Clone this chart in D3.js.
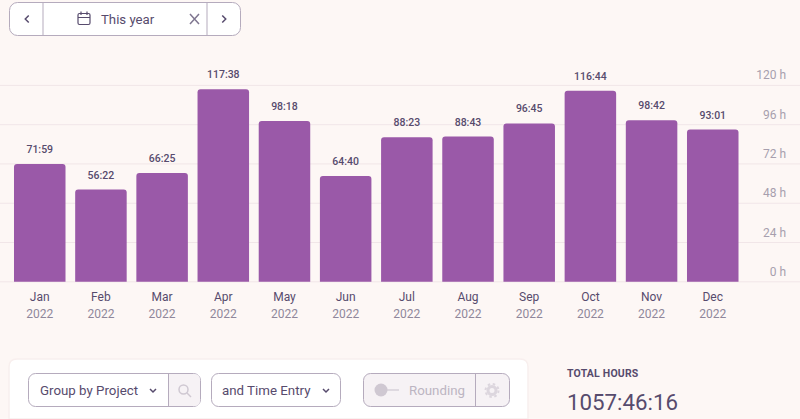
<!DOCTYPE html>
<html>
<head>
<meta charset="utf-8">
<script src="https://cdn.jsdelivr.net/npm/d3@7"></script>
<style>
  html, body { margin: 0; padding: 0; background: #fdf7f5; overflow: hidden; }
  svg { display: block; font-family: Roboto, sans-serif; }
</style>
</head>
<body>
<svg id="chart" width="800" height="419"></svg>
<script>
// chart values
const months = ["Jan", "Feb", "Mar", "Apr", "May", "Jun", "Jul", "Aug", "Sep", "Oct", "Nov", "Dec"];
const years = ["2022", "2022", "2022", "2022", "2022", "2022", "2022", "2022", "2022", "2022", "2022", "2022"];
const durations = ["71:59", "56:22", "66:25", "117:38", "98:18", "64:40", "88:23", "88:43", "96:45", "116:44", "98:42", "93:01"];
const hourTicks = [0, 24, 48, 72, 96, 120];

const ink = "#574b6d";
const border = "#b5abbd";
const purple = "#9a59a8";

const svg = d3.select("#chart");

// "hh:mm" to hours
const toHours = (s) => {
  const p = s.split(":");
  return +p[0] + +p[1] / 60;
};

const x = d3.scaleBand().domain(months).range([9.1, 743.4]).paddingInner(0.158).paddingOuter(0.08);
const y = d3.scaleLinear().domain([0, 120]).range([281.8, 85.4]);

// grid lines and hour labels on the right
svg.selectAll("line.grid")
  .data(hourTicks)
  .enter()
  .append("line")
  .attr("class", "grid")
  .attr("x1", 0)
  .attr("x2", 800)
  .attr("y1", (d) => y(d))
  .attr("y2", (d) => y(d))
  .attr("stroke", "#f1e6e8")
  .attr("stroke-width", 1);

svg.selectAll("text.hour")
  .data(hourTicks)
  .enter()
  .append("text")
  .attr("class", "hour")
  .attr("x", 786)
  .attr("y", (d) => y(d) - 6)
  .attr("text-anchor", "end")
  .attr("font-size", 12)
  .attr("fill", "#a79fae")
  .text((d) => d + " h");

// bars, rounded on the top corners only
const barPath = (d) => {
  const x0 = x(d.month);
  const w = x.bandwidth();
  const top = y(d.hours);
  const r = 3;
  return `M${x0},${y(0)}V${top + r}Q${x0},${top} ${x0 + r},${top}H${x0 + w - r}Q${x0 + w},${top} ${x0 + w},${top + r}V${y(0)}Z`;
};

const rows = months.map((m, i) => ({ month: m, year: years[i], label: durations[i], hours: toHours(durations[i]) }));

svg.selectAll("path.bar")
  .data(rows)
  .enter()
  .append("path")
  .attr("class", "bar")
  .attr("d", barPath)
  .attr("fill", purple);

svg.selectAll("text.value")
  .data(rows)
  .enter()
  .append("text")
  .attr("class", "value")
  .attr("x", (d) => x(d.month) + x.bandwidth() / 2)
  .attr("y", (d) => y(d.hours) - 11)
  .attr("text-anchor", "middle")
  .attr("font-size", 10.5)
  .attr("font-weight", 500)
  .attr("fill", ink)
  .text((d) => d.label);

svg.selectAll("text.month")
  .data(rows)
  .enter()
  .append("text")
  .attr("class", "month")
  .attr("x", (d) => x(d.month) + x.bandwidth() / 2)
  .attr("y", 301)
  .attr("text-anchor", "middle")
  .attr("font-size", 12)
  .attr("fill", ink)
  .text((d) => d.month);

svg.selectAll("text.year")
  .data(rows)
  .enter()
  .append("text")
  .attr("class", "year")
  .attr("x", (d) => x(d.month) + x.bandwidth() / 2)
  .attr("y", 318)
  .attr("text-anchor", "middle")
  .attr("font-size", 12)
  .attr("fill", "#8f879b")
  .text((d) => d.year);

// date picker at the top
svg.append("rect").attr("x", 9.5).attr("y", 2.5).attr("width", 231).attr("height", 33).attr("rx", 8)
  .attr("fill", "#fff").attr("stroke", border);
[43, 207].forEach((px) => {
  svg.append("line").attr("x1", px).attr("x2", px).attr("y1", 3).attr("y2", 35).attr("stroke", border);
});
const chevron = (g, cx, cy, dir, size) => {
  // dir: "left", "right", "down"
  const s = size;
  let d = `M${cx + s / 2},${cy - s}L${cx - s / 2},${cy}L${cx + s / 2},${cy + s}`;
  if (dir === "right") d = `M${cx - s / 2},${cy - s}L${cx + s / 2},${cy}L${cx - s / 2},${cy + s}`;
  if (dir === "down") d = `M${cx - s},${cy - s / 2}L${cx},${cy + s / 2}L${cx + s},${cy - s / 2}`;
  g.append("path").attr("d", d).attr("fill", "none").attr("stroke", ink).attr("stroke-width", 1.5);
};
chevron(svg, 27, 19, "left", 3.5);
chevron(svg, 224, 19, "right", 3.5);

// calendar icon
svg.append("rect").attr("x", 78).attr("y", 13.5).attr("width", 12).attr("height", 11).attr("rx", 1.5)
  .attr("fill", "none").attr("stroke", ink).attr("stroke-width", 1.2);
svg.append("path").attr("d", "M78,17.5H90M81,11.5V15M87,11.5V15")
  .attr("fill", "none").attr("stroke", ink).attr("stroke-width", 1.2);
svg.append("text").attr("x", 101).attr("y", 24).attr("font-size", 13.2).attr("fill", ink).text("This year");
svg.append("path").attr("d", "M190,14L199,24M199,14L190,24")
  .attr("stroke", "#7f7690").attr("stroke-width", 1.5).attr("fill", "none");

// report controls card at the bottom
svg.append("path").attr("d", "M9,419V367Q9,359 17,359H520Q528,359 528,367V419Z")
  .attr("fill", "#fff").attr("stroke", "#f8efee").attr("stroke-width", 1.5);

svg.append("rect").attr("x", 28.5).attr("y", 373.5).attr("width", 172).attr("height", 33).attr("rx", 7)
  .attr("fill", "#fff").attr("stroke", border);
svg.append("path").attr("d", "M168.5,374H194Q200,374 200,380V400Q200,406 194,406H168.5Z").attr("fill", "#f6f2f5");
svg.append("line").attr("x1", 168.5).attr("x2", 168.5).attr("y1", 374).attr("y2", 406).attr("stroke", border);
svg.append("text").attr("x", 40).attr("y", 395).attr("font-size", 13.3).attr("fill", ink).text("Group by Project");
chevron(svg, 153, 390.5, "down", 3);
svg.append("circle").attr("cx", 183.5).attr("cy", 389.5).attr("r", 4.5).attr("fill", "none").attr("stroke", "#cfc8d2").attr("stroke-width", 1.5);
svg.append("line").attr("x1", 187).attr("y1", 393).attr("x2", 191).attr("y2", 397).attr("stroke", "#cfc8d2").attr("stroke-width", 1.5);

svg.append("rect").attr("x", 211.5).attr("y", 373.5).attr("width", 129).attr("height", 33).attr("rx", 7)
  .attr("fill", "#fff").attr("stroke", border);
svg.append("text").attr("x", 222).attr("y", 395).attr("font-size", 13.3).attr("fill", ink).text("and Time Entry");
chevron(svg, 326, 390.5, "down", 3);

svg.append("rect").attr("x", 363.5).attr("y", 373.5).attr("width", 146).attr("height", 33).attr("rx", 7)
  .attr("fill", "#f6f2f5").attr("stroke", border);
svg.append("line").attr("x1", 475.5).attr("x2", 475.5).attr("y1", 374).attr("y2", 406).attr("stroke", border);
svg.append("circle").attr("cx", 381).attr("cy", 390).attr("r", 6.5).attr("fill", "#cfc8d2");
svg.append("line").attr("x1", 386).attr("x2", 399).attr("y1", 390).attr("y2", 390).attr("stroke", "#cfc8d2").attr("stroke-width", 1.2);
svg.append("text").attr("x", 409).attr("y", 395).attr("font-size", 13.3).attr("fill", "#bcb5c2").text("Rounding");
// gear
svg.append("circle").attr("cx", 492).attr("cy", 390.5).attr("r", 4).attr("fill", "none").attr("stroke", "#dcd6de").attr("stroke-width", 3);
svg.append("circle").attr("cx", 492).attr("cy", 390.5).attr("r", 6.5).attr("fill", "none").attr("stroke", "#dcd6de").attr("stroke-width", 2).attr("stroke-dasharray", "2.5 2.6");

// totals
svg.append("text").attr("x", 567).attr("y", 377).attr("font-size", 10.5).attr("font-weight", 700).attr("letter-spacing", 0.2).attr("fill", ink).text("TOTAL HOURS");
svg.append("text").attr("x", 567).attr("y", 410).attr("font-size", 22.3).attr("fill", ink).text("1057:46:16");
</script>
</body>
</html>
